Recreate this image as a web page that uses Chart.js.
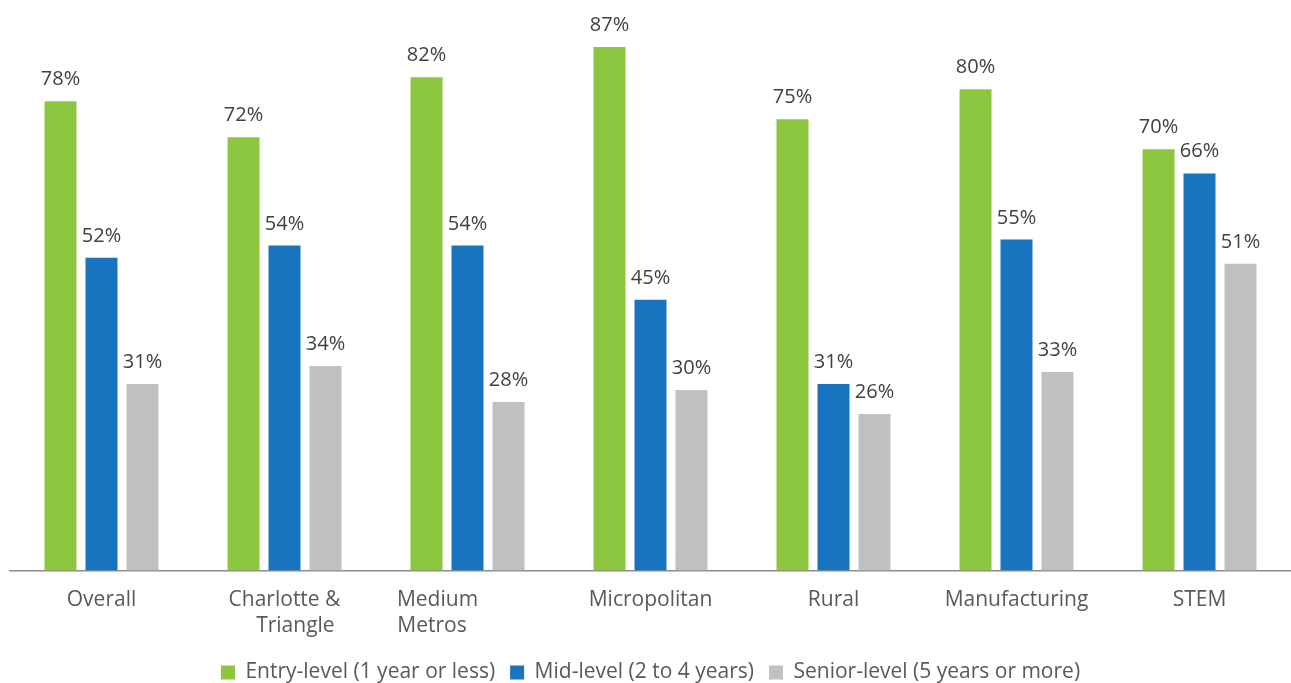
<!DOCTYPE html>
<html>
<head>
<meta charset="utf-8">
<script src="https://cdn.jsdelivr.net/npm/chart.js@4"></script>
<style>
html,body{margin:0;padding:0;background:#fff;}
#wrap{width:1291px;height:683px;position:relative;}
</style>
</head>
<body>
<div id="wrap"><canvas id="c"></canvas></div>
<script>
const categories = [
  "Overall",
  ["Charlotte &", "    Triangle"],
  ["Medium           ", "Metros             "],
  "Micropolitan",
  "Rural",
  "Manufacturing",
  "STEM"
];
const seriesNames = [
  "Entry-level (1 year or less)",
  "Mid-level (2 to 4 years)",
  "Senior-level (5 years or more)"
];
const entryLevel  = [78, 72, 82, 87, 75, 80, 70];
const midLevel    = [52, 54, 54, 45, 31, 55, 66];
const seniorLevel = [31, 34, 28, 30, 26, 33, 51];
const colors = ["#8DC63F", "#1874BE", "#C0C0C0"];

const labelPlugin = {
  id: 'valueLabels',
  afterDatasetsDraw(chart) {
    const ctx = chart.ctx;
    ctx.save();
    ctx.font = '20px "Open Sans", sans-serif';
    ctx.fillStyle = '#404040';
    ctx.textAlign = 'center';
    ctx.textBaseline = 'alphabetic';
    chart.data.datasets.forEach((ds, i) => {
      const meta = chart.getDatasetMeta(i);
      meta.data.forEach((bar, j) => {
        ctx.fillText(ds.data[j] + '%', bar.x, bar.y - 16);
      });
    });
    ctx.restore();
  }
};

new Chart(document.getElementById('c'), {
  type: 'bar',
  data: {
    labels: categories,
    datasets: [
      { label: seriesNames[0], data: entryLevel, backgroundColor: colors[0] },
      { label: seriesNames[1], data: midLevel, backgroundColor: colors[1] },
      { label: seriesNames[2], data: seniorLevel, backgroundColor: colors[2] }
    ]
  },
  options: {
    responsive: true,
    maintainAspectRatio: false,
    animation: false,
    devicePixelRatio: 1,
    layout: { padding: { left: 10, right: 0, top: 29, bottom: -10 } },
    datasets: { bar: { categoryPercentage: 0.672, barPercentage: 0.78 } },
    scales: {
      x: {
        grid: { display: false },
        border: { display: true, color: '#8c8c8c', width: 1.5 },
        ticks: {
          color: '#595959',
          font: { family: '"Open Sans", sans-serif', size: 21, lineHeight: 1.25 },
          padding: 8,
          maxRotation: 0,
          autoSkip: false
        }
      },
      y: {
        display: false,
        min: 0,
        max: 90
      }
    },
    plugins: {
      legend: {
        position: 'bottom',
        labels: {
          boxWidth: 14,
          boxHeight: 14,
          padding: 15,
          color: '#595959',
          font: { family: '"Open Sans", sans-serif', size: 21 }
        }
      },
      tooltip: { enabled: false }
    }
  },
  plugins: [labelPlugin]
});
</script>
</body>
</html>
